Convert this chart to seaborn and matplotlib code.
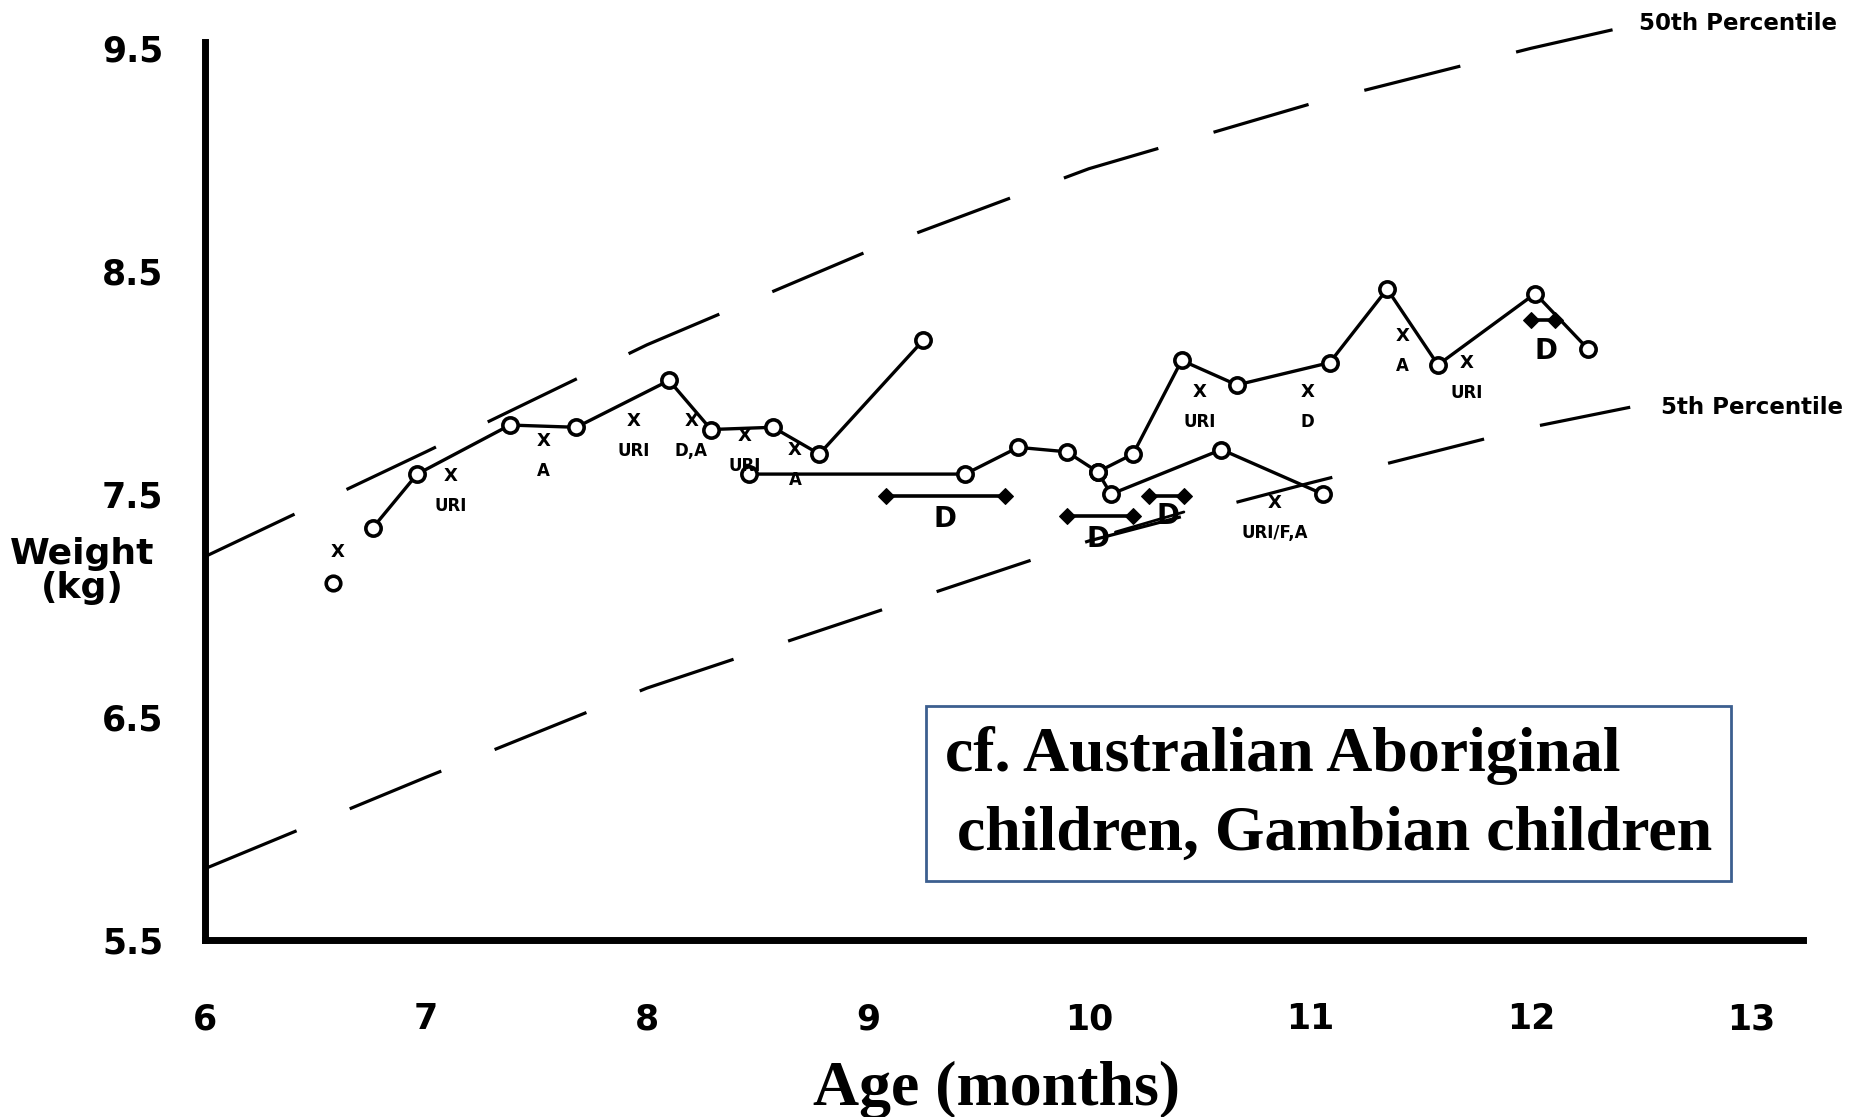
import numpy as np
import pandas as pd
import seaborn as sns
import matplotlib.pyplot as plt
from matplotlib.patches import Rectangle

# percentile reference curves
p50_age = [6.0, 7.0, 8.0, 9.0, 10.0, 11.0, 12.0, 12.4]
p50_wt = [7.22, 7.69, 8.17, 8.59, 8.96, 9.25, 9.50, 9.59]
p5_age = [6.0, 7.0, 8.0, 9.0, 10.0, 11.0, 12.0, 12.45]
p5_wt = [5.82, 6.23, 6.63, 6.96, 7.29, 7.55, 7.80, 7.89]

# child measurements
first_age = [6.58]
first_wt = [7.10]
s1_age = [6.76, 6.96, 7.38, 7.68, 8.10, 8.29, 8.57, 8.78, 9.25]
s1_wt = [7.35, 7.59, 7.81, 7.80, 8.01, 7.79, 7.80, 7.68, 8.19]
s2_age = [8.46, 9.44, 9.68, 9.90, 10.04, 10.20, 10.42, 10.67, 11.09, 11.35, 11.58, 12.02, 12.26]
s2_wt = [7.59, 7.59, 7.71, 7.69, 7.60, 7.68, 8.10, 7.99, 8.09, 8.42, 8.08, 8.40, 8.15]
s3_age = [10.04, 10.10, 10.60, 11.06]
s3_wt = [7.60, 7.50, 7.70, 7.50]

# diarrhoea episodes (start, end, level)
d_start = [9.08, 9.90, 10.27, 12.00]
d_end = [9.62, 10.20, 10.43, 12.11]
d_level = [7.49, 7.40, 7.49, 8.28]

# illness markers: age, weight of the "X", label under it
ill_age = [6.60, 7.11, 7.53, 7.94, 8.20, 8.44, 8.67, 10.50, 10.99, 11.42, 11.71, 10.84]
ill_wt = [7.24, 7.58, 7.74, 7.83, 7.83, 7.76, 7.70, 7.96, 7.96, 8.21, 8.09, 7.46]
ill_lab = ["", "URI", "A", "URI", "D,A", "URI", "A", "URI", "D", "A", "URI", "URI/F,A"]

big_d_age = [9.35, 10.04, 10.36, 12.07]
big_d_wt = [7.39, 7.30, 7.40, 8.14]

sns.set_style("white")
plt.rcParams["font.family"] = ["DejaVu Sans"]
plt.rcParams.update({"text.color": "black", "axes.labelcolor": "black",
                     "xtick.color": "black", "ytick.color": "black"})

fig = plt.figure(figsize=(18.66, 11.17), dpi=100)
ax = fig.add_axes([0.1099, 0.1585, 0.8561, 0.8042])

dash = (0, (31, 18))
for a, w in [(p50_age, p50_wt), (p5_age, p5_wt)]:
    sns.lineplot(x=a, y=w, ax=ax, color="black", lw=2.3, linestyle=dash,
                 sort=False, errorbar=None)
    ax.lines[-1].set_clip_on(False)

ax.text(12.49, 9.61, "50th Percentile", fontsize=16.5, fontweight="bold",
        va="center", ha="left", clip_on=False)
ax.text(12.59, 7.89, "5th Percentile", fontsize=16.5, fontweight="bold",
        va="center", ha="left", clip_on=False)

mk = dict(color="black", lw=2.4, marker="o", markersize=11, markerfacecolor="white",
          markeredgecolor="black", markeredgewidth=2.6, sort=False, errorbar=None)
for a, w in [(s1_age, s1_wt), (s2_age, s2_wt), (s3_age, s3_wt)]:
    sns.lineplot(x=a, y=w, ax=ax, **mk)
sns.scatterplot(x=first_age, y=first_wt, ax=ax, marker="o", s=110,
                facecolor="white", edgecolor="black", linewidth=2.6)

for s, e, lv in zip(d_start, d_end, d_level):
    sns.lineplot(x=[s, e], y=[lv, lv], ax=ax, color="black", lw=2.6, marker="D",
                 markersize=8, markerfacecolor="black", markeredgecolor="black",
                 errorbar=None)
sns.lineplot(x=[10.12, 10.43], y=[7.33, 7.42], ax=ax, color="black", lw=2, errorbar=None)

for a, w, lab in zip(ill_age, ill_wt, ill_lab):
    ax.text(a, w, "X", fontsize=13, fontweight="bold", ha="center", va="center")
    if lab:
        ax.text(a, w - 0.135, lab, fontsize=12, fontweight="bold", ha="center", va="center")
for a, w in zip(big_d_age, big_d_wt):
    ax.text(a, w, "D", fontsize=20, fontweight="bold", ha="center", va="center")

ax.set_xlim(6, 13.23)
ax.set_ylim(5.5, 9.53)
ax.set_xticks(range(6, 14))
ax.set_xticklabels([str(v) for v in range(6, 14)])
ax.set_yticks([5.5, 6.5, 7.5, 8.5, 9.5])
ax.set_yticklabels(["5.5", "6.5", "7.5", "8.5", "9.5"])
for lbl in ax.get_xticklabels() + ax.get_yticklabels():
    lbl.set_fontweight("bold")
ax.tick_params(axis="x", direction="out", length=8, width=2, pad=37, labelsize=25)
ax.tick_params(axis="y", direction="out", length=8, width=2, pad=22, labelsize=25)

sns.despine(ax=ax)
for side in ["left", "bottom"]:
    ax.spines[side].set_linewidth(5)
    ax.spines[side].set_color("black")

ax.set_ylabel("Weight\n(kg)", fontsize=26, fontweight="bold", rotation=0,
              linespacing=1.0, ha="center", va="center")
ax.yaxis.set_label_coords(-0.077, 0.411)
ax.set_xlabel("Age (months)", fontsize=46, fontweight="bold", family="Liberation Serif",
              va="center")
ax.xaxis.set_label_coords(0.4956, -0.167)

ax.add_patch(Rectangle((0.451, 0.0657), 0.504, 0.195, transform=ax.transAxes,
                       fill=True, facecolor="white", edgecolor="#3c5f8f", lw=2, zorder=5))
ax.text(0.463, 0.205, "cf. Australian Aboriginal", transform=ax.transAxes,
        fontsize=46, fontweight="bold", family="Liberation Serif", va="center", zorder=6)
ax.text(0.471, 0.117, "children, Gambian children", transform=ax.transAxes,
        fontsize=46, fontweight="bold", family="Liberation Serif", va="center", zorder=6)

fig.savefig("out.png", dpi=100)
